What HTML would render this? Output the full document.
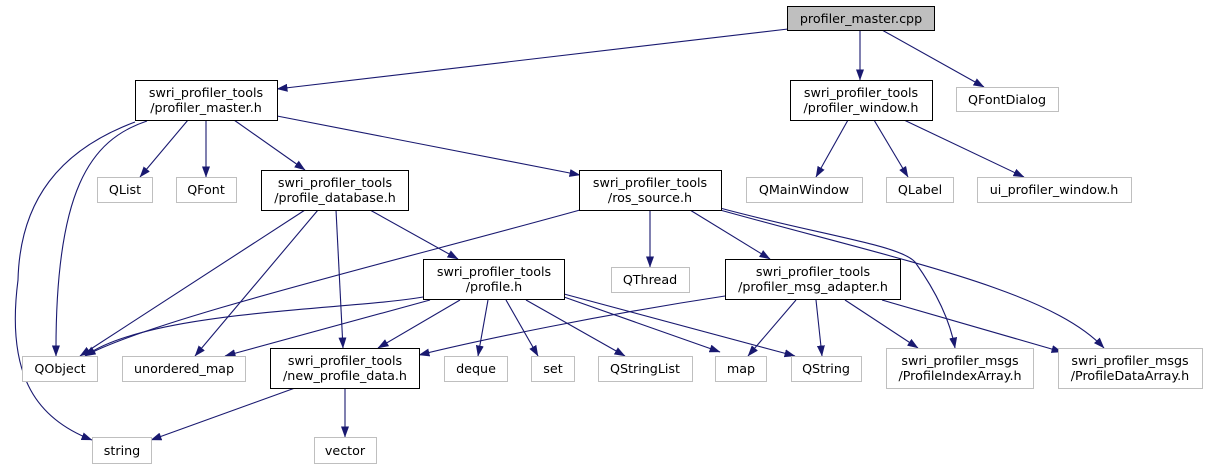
<!DOCTYPE html>
<html><head><meta charset="utf-8"><style>
html,body{margin:0;padding:0;background:#fff;}
svg text{font-family:"DejaVu Sans","Liberation Sans",sans-serif;font-size:12.7px;fill:#000;}
</style></head><body>
<svg width="1208" height="469" viewBox="0 0 1208 469" xmlns="http://www.w3.org/2000/svg">
<defs><marker id="a" markerWidth="11" markerHeight="8" refX="10.5" refY="4" orient="auto" markerUnits="userSpaceOnUse"><path d="M0,0 L11,4 L0,8 z" fill="#191970"/></marker></defs>
<g fill="none" stroke="#191970" stroke-width="1.1" marker-end="url(#a)">
<path d="M788,29 L277,89"/>
<path d="M860,30 L860,80"/>
<path d="M882,30 L984,87"/>
<path d="M188,120 L140,177"/>
<path d="M206,120 L206,177"/>
<path d="M234,120 L305,170"/>
<path d="M277,116 L580,175"/>
<path d="M147,121 C90,140 55,190 56,356"/>
<path d="M135,122 C60,150 20,200 18,280 C5,380 40,420 92,440"/>
<path d="M305,210 L80,356"/>
<path d="M318,210 L195,356"/>
<path d="M336,210 L343,348"/>
<path d="M370,210 L458,259"/>
<path d="M580,210 C400,260 150,320 85,356"/>
<path d="M650,210 L650,267"/>
<path d="M690,210 L770,259"/>
<path d="M720,208 C820,235 900,245 915,262 C935,290 950,320 955,348"/>
<path d="M720,210 C900,260 1050,290 1104,348"/>
<path d="M423,297 C350,310 150,310 85,356"/>
<path d="M430,300 L225,356"/>
<path d="M460,300 L378,348"/>
<path d="M488,300 L478,356"/>
<path d="M506,300 L538,356"/>
<path d="M526,300 L625,356"/>
<path d="M564,297 L720,352"/>
<path d="M564,294 L795,356"/>
<path d="M725,296 C600,315 480,340 419,355"/>
<path d="M796,300 L748,356"/>
<path d="M816,300 L822,356"/>
<path d="M845,300 L918,348"/>
<path d="M882,300 L1062,352"/>
<path d="M295,388 L151,440"/>
<path d="M345,388 L345,437"/>
<path d="M848,120 L816,177"/>
<path d="M874,120 L908,177"/>
<path d="M904,120 L1024,177"/>
</g>
<g stroke-width="1">
<rect x="787.5" y="6.5" width="147" height="24" fill="#bfbfbf" stroke="#000"/>
<g fill="#fff" stroke="#000">
<rect x="135.5" y="80.5" width="142" height="40"/>
<rect x="790.5" y="80.5" width="142" height="40"/>
<rect x="261.5" y="170.5" width="147" height="40"/>
<rect x="579.5" y="170.5" width="142" height="40"/>
<rect x="423.5" y="259.5" width="141" height="40"/>
<rect x="725.5" y="259.5" width="175" height="40"/>
<rect x="270.5" y="348.5" width="149" height="40"/>
</g>
<g fill="#fff" stroke="#bfbfbf">
<rect x="956.5" y="87.5" width="102" height="24"/>
<rect x="97.5" y="177.5" width="55" height="25"/>
<rect x="176.5" y="177.5" width="60" height="25"/>
<rect x="746.5" y="177.5" width="116" height="25"/>
<rect x="886.5" y="177.5" width="67" height="25"/>
<rect x="977.5" y="177.5" width="154" height="25"/>
<rect x="611.5" y="267.5" width="78" height="25"/>
<rect x="22.5" y="356.5" width="75" height="25"/>
<rect x="122.5" y="356.5" width="123" height="25"/>
<rect x="444.5" y="356.5" width="63" height="25"/>
<rect x="531.5" y="356.5" width="43" height="25"/>
<rect x="598.5" y="356.5" width="94" height="25"/>
<rect x="715.5" y="356.5" width="51" height="25"/>
<rect x="791.5" y="356.5" width="70" height="25"/>
<rect x="886.5" y="348.5" width="147" height="40"/>
<rect x="1058.5" y="348.5" width="144" height="40"/>
<rect x="92.5" y="437.5" width="59" height="26"/>
<rect x="314.5" y="437.5" width="62" height="26"/>
</g>
</g>
<g text-anchor="middle">
<text x="861" y="23">profiler_master.cpp</text>
<text x="206" y="97">swri_profiler_tools</text><text x="206" y="112">/profiler_master.h</text>
<text x="861" y="97">swri_profiler_tools</text><text x="861" y="112">/profiler_window.h</text>
<text x="1007" y="104">QFontDialog</text>
<text x="125" y="194">QList</text>
<text x="206" y="194">QFont</text>
<text x="335" y="187">swri_profiler_tools</text><text x="335" y="202">/profile_database.h</text>
<text x="650" y="187">swri_profiler_tools</text><text x="650" y="202">/ros_source.h</text>
<text x="804" y="194">QMainWindow</text>
<text x="920" y="194">QLabel</text>
<text x="1054" y="194">ui_profiler_window.h</text>
<text x="650" y="284">QThread</text>
<text x="494" y="276">swri_profiler_tools</text><text x="494" y="291">/profile.h</text>
<text x="813" y="276">swri_profiler_tools</text><text x="813" y="291">/profiler_msg_adapter.h</text>
<text x="60" y="373">QObject</text>
<text x="184" y="373">unordered_map</text>
<text x="345" y="365">swri_profiler_tools</text><text x="345" y="380">/new_profile_data.h</text>
<text x="476" y="373">deque</text>
<text x="553" y="373">set</text>
<text x="645" y="373">QStringList</text>
<text x="741" y="373">map</text>
<text x="826" y="373">QString</text>
<text x="960" y="365">swri_profiler_msgs</text><text x="960" y="380">/ProfileIndexArray.h</text>
<text x="1130" y="365">swri_profiler_msgs</text><text x="1130" y="380">/ProfileDataArray.h</text>
<text x="122" y="455">string</text>
<text x="345" y="455">vector</text>
</g>
</svg>
</body></html>
